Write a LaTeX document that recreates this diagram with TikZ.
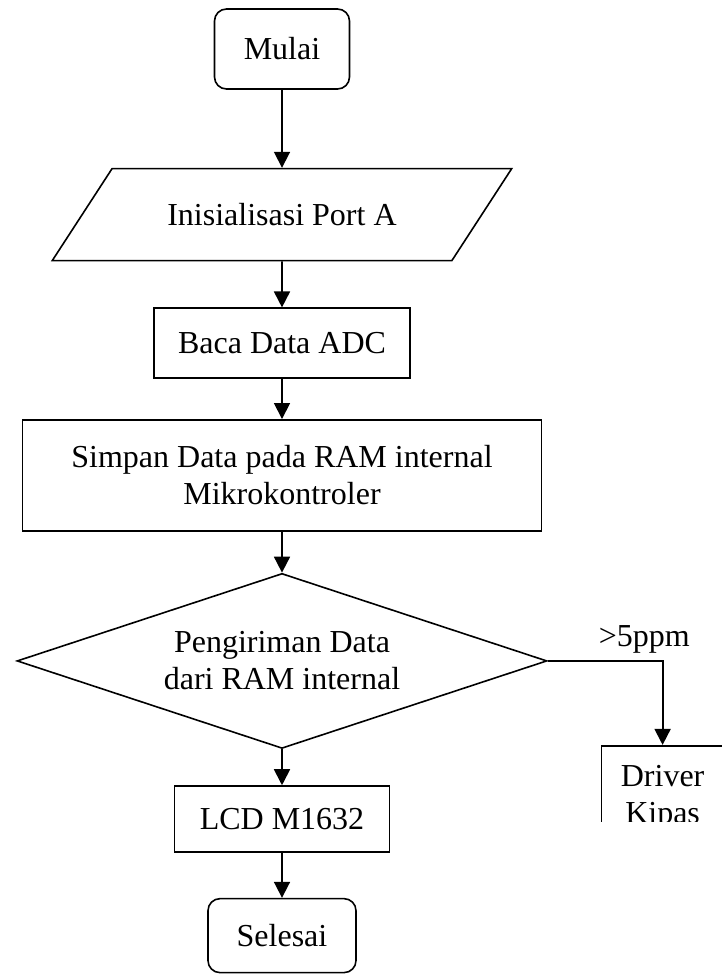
\documentclass[tikz,border=0pt]{standalone}
\usepackage{fontspec}
\setmainfont{Liberation Serif}
\usetikzlibrary{positioning}
\usetikzlibrary{shapes.geometric}
\usetikzlibrary{arrows.meta}

\begin{document}
\begin{tikzpicture}[font=\fontsize{16}{18.4}\selectfont,
termnode/.style={rectangle, rounded corners=6pt, draw=black, line width=0.8pt, align=center},
procnode/.style={rectangle, draw=black, line width=0.8pt, align=center},
ionode/.style={trapezium, trapezium left angle=40, trapezium right angle=140, trapezium stretches=true, draw=black, line width=0.8pt, minimum width=230pt, minimum height=46pt},
decnode/.style={diamond, aspect=3, draw=black, line width=0.8pt, inner sep=0pt, minimum width=265pt, minimum height=87.5pt, align=center},
flow/.style={-{Triangle[length=8pt,width=8pt]}, line width=0.9pt}]
\useasboundingbox (0,0) rectangle (361pt,-488pt);
\node[termnode, minimum width=67.5pt, minimum height=40pt] (mulai) at (141pt,-24.5pt) {Mulai};
\node[ionode] (init) [below=39pt of mulai] {Inisialisasi Port A};
\node[procnode, minimum width=128pt, minimum height=35pt] (baca) [below=23pt of init] {Baca Data ADC};
\node[procnode, minimum width=259.5pt, minimum height=55.5pt] (simpan) [below=20pt of baca] {Simpan Data pada RAM internal\\Mikrokontroler};
\node[decnode] (kirim) [below=20.5pt of simpan] {Pengiriman Data\\dari RAM internal};
\node[procnode, minimum width=107.5pt, minimum height=33pt] (lcd) [below=18pt of kirim] {LCD M1632};
\node[termnode, minimum width=74pt, minimum height=37pt] (selesai) [below=22.5pt of lcd] {Selesai};
\begin{scope}
\clip (280pt,-360pt) rectangle (361pt,-410.5pt);
\node[procnode, minimum width=61pt, inner ysep=10pt] (kipas) [below right=42pt and 26.5pt of kirim.east] {Driver\\Kipas};
\end{scope}

\draw[flow] (mulai) -- (init);
\draw[flow] (init) -- (baca);
\draw[flow] (baca) -- (simpan);
\draw[flow] (simpan) -- (kirim);
\draw[flow] (kirim) -- (lcd);
\draw[flow] (lcd) -- (selesai);
\draw[flow] (kirim.east) -| node[pos=0.42, above] {>5ppm} (kipas.north);
\end{tikzpicture}
\end{document}
